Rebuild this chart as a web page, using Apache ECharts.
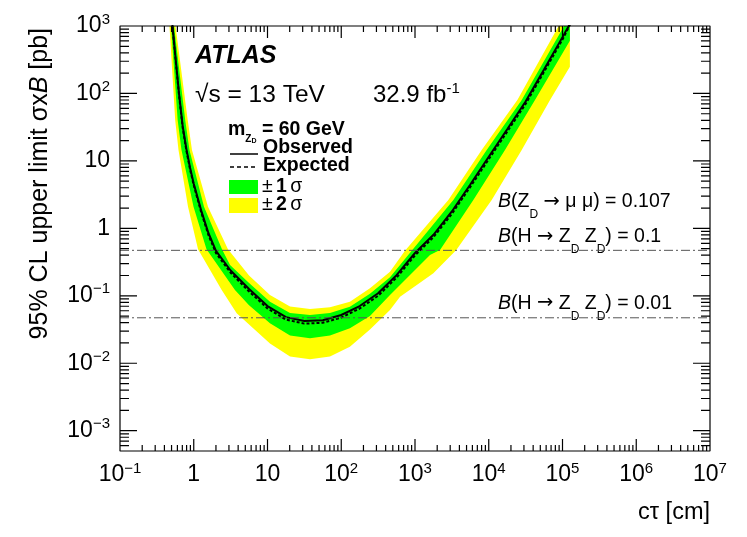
<!DOCTYPE html>
<html><head><meta charset="utf-8">
<script src="https://cdn.jsdelivr.net/npm/echarts@6/dist/echarts.min.js"></script>
<style>html,body{margin:0;padding:0;background:#fff}#c{width:747px;height:537px}</style>
</head><body><div id="c"></div>
<script>
// ---- data ----
const ctau = [0.457, 0.501, 0.562, 0.631, 0.708, 0.794, 0.891, 1.0, 1.26, 1.58, 2.0, 3.16, 5.62, 10, 17.8, 31.6, 56.2, 100, 178, 316, 562, 1000, 1780, 3160, 5620, 1e4, 1.78e4, 3.16e4, 5.62e4, 1e5, 1.26e5];
const observed = [3981, 1380, 370, 100, 32.7, 15.1, 7.9, 4.6, 1.85, 0.853, 0.462, 0.237, 0.126, 0.0705, 0.0483, 0.0423, 0.0435, 0.0519, 0.0705, 0.109, 0.202, 0.431, 0.803, 1.78, 4.47, 11.5, 29.5, 75.9, 226, 684, 1072];
const expected = [3800, 1320, 350, 95, 31, 14.3, 7.5, 4.35, 1.74, 0.80, 0.43, 0.22, 0.116, 0.065, 0.0443, 0.0387, 0.0398, 0.0476, 0.0648, 0.100, 0.186, 0.397, 0.74, 1.64, 4.12, 10.6, 27.2, 70, 209, 632, 1040];
// band edges: [ctau, limit]
const plus2 = [[0.537,1995],[0.566,1000],[0.828,40.4],[0.946,14.5],[1.56,2.09],[2.911,0.489],[5.62,0.1995],[10.8,0.103],[20.2,0.0692],[37.7,0.0637],[70.3,0.0676],[131,0.0819],[245,0.129],[458,0.228],[731,0.467],[2831,2.63],[8017,14.5],[24434,80],[125893,1995]];
const plus1 = [[0.519,1995],[0.540,1000],[0.766,40.4],[0.875,14.5],[1.377,2.09],[2.415,0.489],[3.105,0.286],[5.62,0.155],[10.8,0.0819],[20.2,0.0557],[37.7,0.0519],[70.3,0.0557],[131,0.069],[245,0.107],[458,0.188],[902,0.467],[3311,2.63],[9376,14.5],[27990,80],[125893,1413]];
const minus1 = [[0.457,2512],[0.492,1000],[0.605,40.4],[0.682,14.5],[0.993,2.09],[1.489,0.489],[3.622,0.122],[5.62,0.0724],[10.8,0.0391],[20.2,0.0257],[37.7,0.0234],[70.3,0.0257],[131,0.033],[245,0.0501],[458,0.103],[1596,0.403],[2183,0.478],[6180,2.63],[16596,14.5],[42364,80],[125893,603]];
const minus2 = [[0.457,1995],[0.469,1000],[0.560,40.4],[0.621,14.5],[0.836,2.09],[1.143,0.489],[2.393,0.122],[3.819,0.055],[10.8,0.0197],[20.2,0.0126],[37.7,0.0115],[70.3,0.0126],[131,0.0176],[245,0.0316],[458,0.0615],[627,0.097],[1000,0.139],[1774,0.215],[3631,0.478],[10965,2.63],[27990,14.5],[67764,80],[125893,249.5]];
const refLevels = [0.472, 0.0472];
const xTickExps = [-1, 0, 1, 2, 3, 4, 5, 6, 7];
const yTickExps = [-3, -2, -1, 0, 1, 2, 3];
const XMIN = 0.1, XMAX = 1e7, YMIN = 5e-4, YMAX = 1000;

const FONT = '"Liberation Sans", Arial, Helvetica, sans-serif';

function expLabel(e) {
  if (e === 0) return '{b|1}';
  if (e === 1) return '{b|10}';
  return '{b|10}{s|' + (e < 0 ? '\u2212' + (-e) : e) + '}';
}
function fmt(exps) {
  return function (v) {
    const l = Math.log10(v), e = Math.round(l);
    if (Math.abs(l - e) > 1e-6 || exps.indexOf(e) < 0) return '';
    return expLabel(e);
  };
}
const labelRich = {
  b: { fontFamily: FONT, fontSize: 23, color: '#000', lineHeight: 28, verticalAlign: 'middle' },
  s: { fontFamily: FONT, fontSize: 15, color: '#000', lineHeight: 15, verticalAlign: 'top' }
};

// tick positions (axis decoration), ascending
const xTicks = [];
for (let n = -1; n <= 7; n++) {
  xTicks.push([Math.pow(10, n), 1]);
  if (n < 7) for (let k = 2; k <= 9; k++) xTicks.push([k * Math.pow(10, n), 0]);
}
const yTicks = [];
for (let n = -4; n <= 3; n++) {
  if (n >= -3) yTicks.push([Math.pow(10, n), 1]);
  if (n < 3) for (let k = 2; k <= 9; k++) { const v = k * Math.pow(10, n); if (v > YMIN * 1.001) yTicks.push([v, 0]); }
}

function band(name, upper, lower, color, z) {
  const pts = upper.concat(lower.slice().reverse());
  return {
    type: 'custom', name: name, clip: true, z: z, silent: true,
    data: pts,
    encode: { x: 0, y: 1 },
    renderItem: function (params, api) {
      if (params.dataIndex !== 0) return null;
      return { type: 'polygon', shape: { points: pts.map(p => api.coord(p)) }, style: { fill: color } };
    }
  };
}

const textStyle = (o) => Object.assign({ fill: '#000', align: 'left', verticalAlign: 'middle', textAlign: 'left', textVerticalAlign: 'middle' }, o);

const graphics = [
  { type: 'text', x: 195, y: 56, style: textStyle({ text: 'ATLAS', font: 'italic bold 25px ' + FONT }) },
  { type: 'text', x: 195, y: 95, style: textStyle({ text: '\u221as = 13 TeV', font: '24.5px ' + FONT }) },
  { type: 'text', x: 373, y: 95, style: textStyle({ text: '{b|32.9 fb}{s|-1}',
    rich: { b: { fontFamily: FONT, fontSize: 24, lineHeight: 28, verticalAlign: 'middle', color: '#000' }, s: { fontFamily: FONT, fontSize: 15, lineHeight: 15, verticalAlign: 'top', color: '#000' } } }) },
  // legend
  { type: 'text', x: 228, y: 130, style: textStyle({ text: '{b|m}{s1|Z}{s2|D}{b| = 60 GeV}',
    rich: { b: { fontFamily: FONT, fontWeight: 'bold', fontSize: 19.5, lineHeight: 29, verticalAlign: 'middle', color: '#000' },
            s1: { fontFamily: FONT, fontWeight: 'bold', fontSize: 10, lineHeight: 10, verticalAlign: 'bottom', color: '#000' },
            s2: { fontFamily: FONT, fontWeight: 'bold', fontSize: 7, lineHeight: 7, verticalAlign: 'bottom', color: '#000' } } }) },
  { type: 'line', shape: { x1: 230, y1: 154, x2: 258, y2: 154 }, style: { stroke: '#000', lineWidth: 1.5 } },
  { type: 'text', x: 263, y: 148, style: textStyle({ text: 'Observed', font: 'bold 19.5px ' + FONT }) },
  { type: 'line', shape: { x1: 230, y1: 167, x2: 258, y2: 167 }, style: { stroke: '#000', lineWidth: 1.5, lineDash: [4, 3] } },
  { type: 'text', x: 263, y: 166, style: textStyle({ text: 'Expected', font: 'bold 19.5px ' + FONT }) },
  { type: 'rect', shape: { x: 229, y: 180, width: 29, height: 14 }, style: { fill: '#00ff00' } },
  { type: 'text', x: 262, y: 187, style: textStyle({ text: '{n|\u00b1} {b|1} {n|\u03c3}',
    rich: { n: { fontFamily: FONT, fontSize: 19.5, color: '#000' }, b: { fontFamily: FONT, fontWeight: 'bold', fontSize: 19.5, color: '#000' } } }) },
  { type: 'rect', shape: { x: 229, y: 198, width: 29, height: 15 }, style: { fill: '#ffff00' } },
  { type: 'text', x: 262, y: 205, style: textStyle({ text: '{n|\u00b1} {b|2} {n|\u03c3}',
    rich: { n: { fontFamily: FONT, fontSize: 19.5, color: '#000' }, b: { fontFamily: FONT, fontWeight: 'bold', fontSize: 19.5, color: '#000' } } }) },
  // annotations
  ...[
    ['{i|B}{n|(Z}{s|D}{n| }{a|\u2192}{n| \u03bc \u03bc) = 0.107}', 201.7],
    ['{i|B}{n|(H }{a|\u2192}{n| Z}{s|D}{n| Z}{s|D}{n|) = 0.1}', 236.7],
    ['{i|B}{n|(H }{a|\u2192}{n| Z}{s|D}{n| Z}{s|D}{n|) = 0.01}', 303.3]
  ].map(a => ({ type: 'text', x: 498, y: a[1], style: textStyle({ text: a[0],
    rich: { n: { fontFamily: FONT, fontSize: 19.5, lineHeight: 38, verticalAlign: 'middle', color: '#000' },
            a: { fontFamily: '"DejaVu Sans"', fontSize: 19.5, lineHeight: 38, verticalAlign: 'middle', color: '#000' },
            i: { fontFamily: FONT, fontStyle: 'italic', fontSize: 19.5, lineHeight: 38, verticalAlign: 'middle', color: '#000' },
            s: { fontFamily: FONT, fontSize: 12, lineHeight: 12, verticalAlign: 'bottom', color: '#000' } } }) })),
  // axis titles
  { type: 'text', x: 710, y: 513, style: textStyle({ text: 'c\u03c4 [cm]', font: '23.5px ' + FONT, align: 'right', textAlign: 'right' }) },
  { type: 'text', x: 40, y: 28, rotation: Math.PI / 2, style: textStyle({ text: '{n|95% CL upper limit \u03c3x}{i|B}{n| [pb]}', align: 'right', textAlign: 'right',
    rich: { n: { fontFamily: FONT, fontSize: 25, color: '#000' }, i: { fontFamily: FONT, fontStyle: 'italic', fontSize: 25, color: '#000' } } }) }
];

const series = [
  band('\u00b1 2 \u03c3', plus2, minus2, '#ffff00', 1),
  band('\u00b1 1 \u03c3', plus1, minus1, '#00ff00', 2),
  {
    type: 'line', name: 'Expected', z: 3, clip: true, showSymbol: false, silent: true,
    data: ctau.map((c, i) => [c, expected[i]]),
    lineStyle: { color: '#000', width: 2, type: [3, 2] }
  },
  {
    type: 'line', name: 'Observed', z: 4, clip: true, showSymbol: false, silent: true,
    data: ctau.map((c, i) => [c, observed[i]]),
    lineStyle: { color: '#000', width: 2 }
  },
  ...refLevels.map((v, i) => ({
    type: 'line', name: 'ref' + i, z: 5, showSymbol: false, silent: true,
    data: [[XMIN, v], [XMAX, v]],
    lineStyle: { color: '#555', width: 1, type: [9, 3, 2, 3] }
  }))
];

const chart = echarts.init(document.getElementById('c'), null, { renderer: 'canvas' });
chart.setOption({
  animation: false,
  backgroundColor: '#fff',
  grid: { left: 120, top: 26, width: 590, height: 425, containLabel: false, outerBoundsMode: 'none', show: false },
  xAxis: {
    type: 'log', logBase: 10, min: XMIN, max: XMAX, splitNumber: 8,
    axisLine: { show: false }, axisTick: { show: false }, splitLine: { show: false }, minorTick: { show: false },
    axisLabel: { margin: 10, formatter: fmt(xTickExps), rich: labelRich, showMinLabel: true, showMaxLabel: true, hideOverlap: false }
  },
  yAxis: {
    type: 'log', logBase: 10, min: YMIN, max: YMAX, splitNumber: 6,
    axisLine: { show: false }, axisTick: { show: false }, splitLine: { show: false }, minorTick: { show: false },
    axisLabel: { margin: 10, formatter: fmt(yTickExps), rich: labelRich, showMinLabel: true, showMaxLabel: true, hideOverlap: false }
  },
  series: series,
  graphic: graphics
});

// Frame with inward ticks on all four sides, drawn as one line series in data space.
// Tick lengths (in pixels) are converted to data factors with the axes' own pixel scale.
const toPx = (x, y) => chart.convertToPixel({ gridIndex: 0 }, [x, y]);
const pxPerDecX = toPx(10, 1)[0] - toPx(1, 1)[0];
const pxPerDecY = toPx(1, 1)[1] - toPx(1, 10)[1];
const fx = (len) => Math.pow(10, len / pxPerDecX);
const fy = (len) => Math.pow(10, len / pxPerDecY);
const framePts = [[XMIN, YMIN]];
xTicks.forEach(t => { const f = fy(t[1] ? 12 : 6); framePts.push([t[0], YMIN], [t[0], YMIN * f], [t[0], YMIN]); });
framePts.push([XMAX, YMIN]);
yTicks.forEach(t => { const f = fx(t[1] ? 17 : 9); framePts.push([XMAX, t[0]], [XMAX / f, t[0]], [XMAX, t[0]]); });
framePts.push([XMAX, YMAX]);
xTicks.slice().reverse().forEach(t => { const f = fy(t[1] ? 12 : 6); framePts.push([t[0], YMAX], [t[0], YMAX / f], [t[0], YMAX]); });
framePts.push([XMIN, YMAX]);
yTicks.slice().reverse().forEach(t => { const f = fx(t[1] ? 17 : 9); framePts.push([XMIN, t[0]], [XMIN * f, t[0]], [XMIN, t[0]]); });
framePts.push([XMIN, YMIN]);

chart.setOption({
  series: series.concat([{
    type: 'line', name: 'frame', z: 8, clip: false, showSymbol: false, silent: true,
    data: framePts,
    lineStyle: { color: '#000', width: 1.2, join: 'bevel' }
  }])
});
</script>
</body></html>
